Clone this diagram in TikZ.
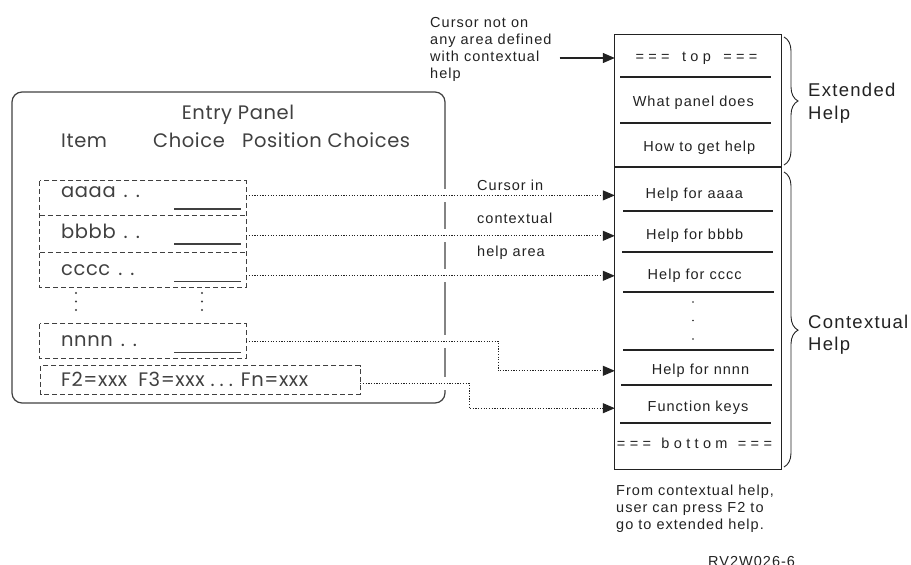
\documentclass[tikz,border=0pt]{standalone}
\usepackage{fontspec}
\usetikzlibrary{arrows.meta,decorations.pathreplacing}
\newfontfamily\panelfont[LetterSpace=3]{Poppins}
\newfontfamily\helvfont[LetterSpace=7]{Liberation Sans}
\newfontfamily\spacedfont[LetterSpace=30]{Liberation Sans}
\definecolor{cink}{RGB}{34,34,34}
\definecolor{cpanel}{RGB}{64,64,64}
\tikzset{helpmap/.style={x=1pt,y=-1pt,font=\helvfont\fontsize{14.5}{16.7}\selectfont,text=cink,inner sep=0pt}}
\tikzset{rowbox/.style={minimum width=206pt}}
\tikzset{rowline/.style={draw=cpanel,line width=0.9pt,dash pattern=on 5pt off 3pt}}
\tikzset{paneltext/.style={font=\panelfont\fontsize{19.5}{22}\selectfont,text=cpanel,anchor=base west}}
\tikzset{entry/.style={text height=10.5pt,text depth=4pt}}
\tikzset{cursorline/.style={cink,line width=1pt,dash pattern=on 1.2pt off 1.5pt,-{Triangle[length=12pt,width=10pt]},
  preaction={draw=white,solid,line width=13pt,-,shorten <=4pt}}}
\tikzset{helpbrace/.style={draw=cink,line width=0.9pt,decorate,decoration={brace,amplitude=14pt}}}
\newcommand{\gap}{\hspace{8pt}}

\begin{document}
\begin{tikzpicture}[helpmap]
    \useasboundingbox (0,0) rectangle (911,565);
    % entry panel
    \node[draw=cpanel,line width=1.2pt,rounded corners=10pt,minimum width=433pt,minimum height=311pt] (panel) at (228.5,247.5) {};
    \node[paneltext,anchor=base] (title) at (238,119.5) {Entry Panel};
    \node[paneltext] (colItem) at (61,147.7) {Item};
    \node[paneltext] (colChoice) at (153,147.7) {Choice};
    \node[paneltext] (colPos) at (242,147.7) {Position Choices};
    \foreach \nm/\txt/\y/\h/\base/\ul in {A/aaaa/198/34/197.3/209,B/bbbb/233.5/37/238.3/244,C/cccc/269.5/35/275/281.7,N/nnnn/341/34/346.7/352.3} {
      \node[rowbox,minimum height=\h pt] (row\nm) at (143,\y) {};
      \node[paneltext] (txt\nm) at (61,\base) {\txt\gap.\gap.};
      \draw[cpanel,line width=1.2pt] (174,\ul) -- (241,\ul); % blank field
    }
    \node[rowbox,minimum width=319pt,minimum height=28pt] (rowF) at (200.5,380) {};
    \node[paneltext] (txtF) at (61,386) {F2=xxx\hspace{11pt}F3=xxx\hspace{6pt}.\hspace{5pt}.\hspace{5pt}.\hspace{8pt}Fn=xxx};
    \draw[rowline] (rowA.north west) rectangle (rowC.south east);
    \foreach \r in {A,B} \draw[rowline] (row\r.south west) -- (row\r.south east);
    \foreach \r in {N,F} \draw[rowline] (row\r.north west) rectangle (row\r.south east);
    \foreach \x in {76,202} \foreach \y in {293,301.5,310} \fill[cpanel] (\x,\y) circle (1.1pt); % more rows
    % help column
    \node[minimum width=166pt,minimum height=434pt] (helpbox) at (698,252) {};
    \node[entry] (topE) at (696.5,58) {\spacedfont ===\hspace{4pt} top \hspace{4pt}===};
    \node[entry] (whatE) at (693.3,102.8) {What panel does};
    \node[entry] (howE) at (699.3,148.5) {How to get help};
    \node[entry] (helpA) at (694.3,195.4) {Help for aaaa};
    \node[entry] (helpB) at (694.7,235.8) {Help for bbbb};
    \node[entry] (helpC) at (694.7,275.8) {Help for cccc};
    \node[entry] (helpN) at (700.5,370.8) {Help for nnnn};
    \node[entry] (helpF) at (698,408.2) {Function keys};
    \node[entry] (bottomE) at (694.5,445) {\spacedfont ===\hspace{2pt} bottom \hspace{2pt}===};
    % cursor arrows
    \node[align=left,anchor=north west] (notOn) at (430,17.6) {Cursor not on\\any area defined\\with contextual\\help};
    \draw[cink,line width=1.2pt,shorten <=8pt,-{Triangle[length=12pt,width=10pt]}] (notOn.east |- topE) -- (helpbox.west |- topE);
    \foreach \r in {A,B,C} \draw[cursorline] (row\r.east |- help\r) -- (helpbox.west |- help\r);
    \coordinate (bendN) at (498,356);
    \coordinate (bendF) at (469,395);
    \draw[cursorline] (rowN.east) -| (bendN) |- (helpbox.west |- helpN);
    \draw[cursorline] ([yshift=-3pt]rowF.east) -| (bendF) |- (helpbox.west |- helpF);
    \node[anchor=base west] (labIn) at (477,190.7) {Cursor in};
    \node[anchor=base west] (labCtx) at (477,223.3) {contextual};
    \node[anchor=base west] (labArea) at (477,256.7) {help area};
    % help column frame and separators
    \draw[cink,line width=1.3pt] (helpbox.north west) rectangle (helpbox.south east);
    \draw[cink,line width=2pt] (615,166.7) -- (781,166.7); % extended / contextual
    \foreach \y/\a/\b in {77/620/771,123/620/771,211/623/773,252/622/773,292/623/774,350/623/774,385/621/772,423/620/771}
      \draw[cink,line width=1.1pt] (\a,\y) -- (\b,\y);
    \foreach \y in {302,320.5,339} \fill[cink] (693,\y) circle (0.9pt); % skipped entries
    % braces
    \draw[helpbrace] (784,37) -- (784,165);
    \draw[helpbrace,decoration={aspect=0.536}] (784,172) -- (784,467);
    \node[align=left,anchor=north west,font=\helvfont\fontsize{18.5}{22.6}\selectfont] (extLab) at (808,83) {Extended\\Help};
    \node[align=left,anchor=north west,font=\helvfont\fontsize{18.5}{22.6}\selectfont] (ctxLab) at (808,314.6) {Contextual\\Help};
    \node[align=left,anchor=north west] (noteF2) at (616,485) {From contextual help,\\user can press F2 to\\go to extended help.};
    \node[anchor=base west] (figId) at (708,566) {RV2W026-6};
\end{tikzpicture}
\end{document}
